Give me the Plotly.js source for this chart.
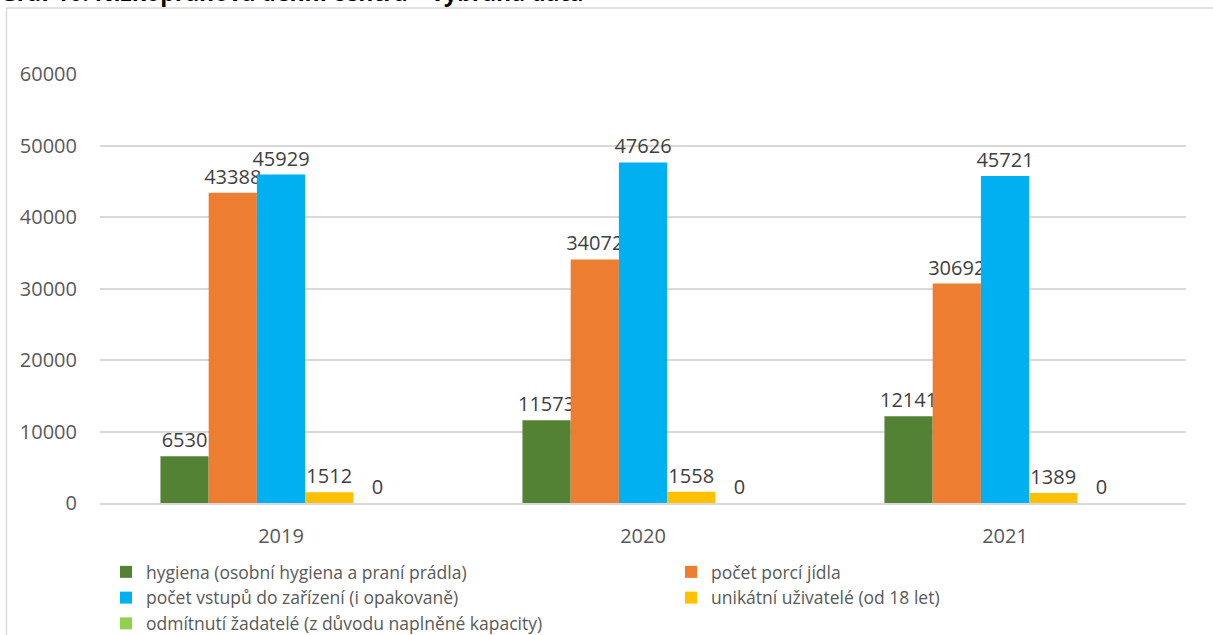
<!DOCTYPE html>
<html>
<head>
<meta charset="utf-8">
<script src="https://cdn.plot.ly/plotly-3.0.1.min.js"></script>
<style>
  html, body { margin: 0; padding: 0; background: #ffffff; }
  #chart { width: 1213px; height: 635px; }
</style>
</head>
<body>
<div id="chart"></div>
<script>
// Years on the category axis
const years = ['2019', '2020', '2021'];

// Series names (legend labels)
const seriesNames = [
  'hygiena (osobní hygiena a praní prádla)',
  'počet porcí jídla',
  'počet vstupů do zařízení (i opakovaně)',
  'unikátní uživatelé (od 18 let)',
  'odmítnutí žadatelé (z důvodu naplněné kapacity)'
];

// Values per series, one per year
const hygiena = [6530, 11573, 12141];
const porceJidla = [43388, 34072, 30692];
const vstupy = [45929, 47626, 45721];
const unikatniUzivatele = [1512, 1558, 1389];
const odmitnutiZadatele = [0, 0, 0];

// Value axis ticks
const yTicks = [0, 10000, 20000, 30000, 40000, 50000, 60000];

const seriesValues = [hygiena, porceJidla, vstupy, unikatniUzivatele, odmitnutiZadatele];
const seriesColors = ['#548235', '#ED7D31', '#00B0F0', '#FFC000', '#92D050'];

const FONT = 'Open Sans, Noto Sans, sans-serif';

const traces = seriesValues.map((vals, i) => ({
  type: 'bar',
  name: seriesNames[i],
  x: years,
  y: vals,
  marker: { color: seriesColors[i], line: { width: 0 } },
  text: vals.map(v => String(v)),
  textposition: 'outside',
  constraintext: 'none',
  textfont: { family: FONT, size: 20, color: '#404040' },
  cliponaxis: false,
  hoverinfo: 'x+y+name'
}));

// Plot area in pixels
const W = 1213, H = 635;
const L = 100, R = 27, T = 74, B = 132;
const pw = W - L - R, ph = H - T - B;
const px = x => (x - L) / pw;
const py = y => (H - B - y) / ph;

const layout = {
  width: W,
  height: H,
  margin: { l: L, r: R, t: T, b: B, pad: 0, autoexpand: false },
  paper_bgcolor: '#ffffff',
  plot_bgcolor: '#ffffff',
  font: { family: FONT, color: '#595959', size: 20 },
  barmode: 'group',
  bargap: 0.334,
  bargroupgap: 0,
  showlegend: true,
  legend: {
    orientation: 'h',
    x: px(96),
    xanchor: 'left',
    y: py(544),
    yanchor: 'top',
    entrywidth: 520,
    entrywidthmode: 'pixels',
    traceorder: 'normal',
    borderwidth: 10,
    bordercolor: 'rgba(0,0,0,0)',
    font: { family: FONT, size: 17.5, color: '#595959' },
    itemclick: false,
    itemdoubleclick: false,
    bgcolor: 'rgba(0,0,0,0)'
  },
  xaxis: {
    type: 'category',
    showgrid: false,
    showline: true,
    linecolor: '#d9d9d9',
    linewidth: 2,
    ticks: '',
    tickfont: { family: FONT, size: 20, color: '#595959' },
    ticklabelstandoff: 14,
    zeroline: false,
    fixedrange: true
  },
  yaxis: {
    range: [0, 60000],
    tickvals: yTicks,
    ticktext: yTicks.map(String),
    showgrid: true,
    gridcolor: '#d9d9d9',
    gridwidth: 1.5,
    zeroline: false,
    showline: false,
    ticks: '',
    ticklabelstandoff: 22,
    tickfont: { family: FONT, size: 20, color: '#595959' },
    fixedrange: true
  },
  annotations: [
    {
      text: '<b>Graf 16: Nízkoprahová denní centra – vybraná data</b>',
      xref: 'paper', yref: 'paper',
      x: px(-2), y: py(10),
      xanchor: 'left', yanchor: 'bottom',
      showarrow: false,
      font: { family: FONT, size: 23, color: '#000000' }
    }
  ],
  shapes: [
    {
      type: 'rect', xref: 'paper', yref: 'paper',
      x0: px(6.5), x1: px(1230), y0: py(8), y1: py(660),
      line: { color: '#d9d9d9', width: 1.5 },
      fillcolor: 'rgba(0,0,0,0)',
      layer: 'below'
    }
  ]
};

Plotly.newPlot('chart', traces, layout, { displayModeBar: false });
</script>
</body>
</html>
